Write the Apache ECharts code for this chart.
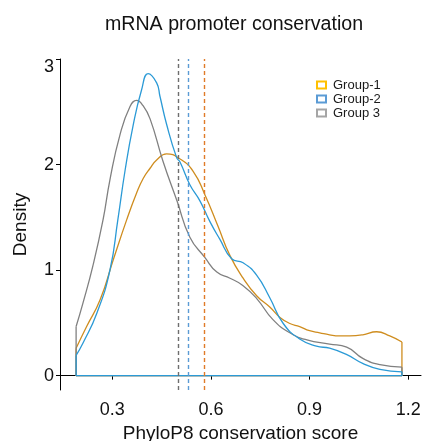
<!DOCTYPE html>
<html>
<head>
<meta charset="utf-8">
<script src="https://cdn.jsdelivr.net/npm/echarts@6/dist/echarts.min.js"></script>
<style>
  html, body { margin: 0; padding: 0; background: #ffffff; }
  #chart { width: 424px; height: 441px; }
</style>
</head>
<body>
<div id="chart"></div>
<script>
// Kernel density estimates of PhyloP8 scores for three promoter groups
const groupNames = ['Group-1', 'Group-2', 'Group 3'];

const group1X = [0.190, 0.222, 0.263, 0.303, 0.344, 0.374, 0.394, 0.415, 0.435, 0.465,
                 0.506, 0.546, 0.582, 0.621, 0.658, 0.698, 0.739, 0.779, 0.810, 0.840,
                 0.870, 0.900, 0.931, 0.961, 0.991, 1.022, 1.062, 1.104, 1.144, 1.181];
const group1Density = [0.260, 0.465, 0.718, 1.098, 1.478, 1.731, 1.868, 1.965, 2.043, 2.102,
                       2.053, 1.936, 1.712, 1.420, 1.137, 0.923, 0.757, 0.650, 0.552, 0.494,
                       0.465, 0.426, 0.406, 0.387, 0.377, 0.377, 0.387, 0.416, 0.377, 0.319];

const group2X = [0.190, 0.211, 0.253, 0.293, 0.317, 0.339, 0.363, 0.389, 0.409, 0.435,
                 0.445, 0.465, 0.496, 0.506, 0.536, 0.567, 0.597, 0.627, 0.663, 0.698,
                 0.739, 0.779, 0.820, 0.870, 0.921, 0.961, 1.012, 1.063, 1.114, 1.181];
const group2Density = [0.192, 0.309, 0.591, 1.001, 1.478, 1.946, 2.365, 2.706, 2.862, 2.774,
                       2.647, 2.384, 2.063, 2.024, 1.809, 1.654, 1.459, 1.293, 1.108, 1.069,
                       0.952, 0.738, 0.494, 0.348, 0.280, 0.260, 0.202, 0.114, 0.060, 0.036];

const group3X = [0.190, 0.211, 0.241, 0.272, 0.293, 0.323, 0.354, 0.374, 0.393, 0.415,
                 0.454, 0.497, 0.536, 0.582, 0.618, 0.658, 0.697, 0.740, 0.788, 0.840,
                 0.892, 0.961, 1.013, 1.062, 1.114, 1.181];
const group3Density = [0.465, 0.689, 1.040, 1.478, 1.858, 2.277, 2.550, 2.608, 2.560, 2.433,
                       2.034, 1.654, 1.312, 1.118, 0.981, 0.923, 0.855, 0.728, 0.533, 0.406,
                       0.338, 0.299, 0.270, 0.163, 0.104, 0.080];

// Group medians, drawn as dashed reference lines
const groupMedians = [0.584, 0.527, 0.500];

const xTickValues = [0.3, 0.6, 0.9, 1.2];
const yTickValues = [0, 1, 2, 3];

const lineColors   = ['#CF8D1F', '#2B9AD6', '#808080'];
const dashColors   = ['#E07B28', '#5B9BD5', '#6E6E6E'];
const legendColors = ['#FFC000', '#5B9BD5', '#A5A5A5'];

const FONT = '"Liberation Sans", Arial, Helvetica, sans-serif';

const xs = [group1X, group2X, group3X];
const ys = [group1Density, group2Density, group3Density];

function zip(a, b) { return a.map((v, i) => [v, b[i]]); }

// Draw order: Group-1, Group 3, Group-2 (Group-2 outline ends on top)
const drawOrder = [0, 2, 1];
const series = [];
drawOrder.forEach(i => {
  const x = xs[i], y = ys[i];
  const n = x.length;
  series.push({
    name: groupNames[i],
    type: 'line',
    data: zip(x, y),
    smooth: 0.5,
    showSymbol: false,
    symbol: 'none',
    lineStyle: { color: lineColors[i], width: 1.3 },
    itemStyle: { color: lineColors[i] },
    markLine: {
      silent: true,
      symbol: ['none', 'none'],
      label: { show: false },
      lineStyle: { color: dashColors[i], type: [4, 3], width: 1.4 },
      data: [{ xAxis: groupMedians[i] }]
    },
    z: 3
  });
  // closing edges of the density polygon: sides and baseline
  series.push({
    name: groupNames[i] + ' edge',
    type: 'line',
    data: [[x[0], y[0]], [x[0], 0], [x[n - 1], 0], [x[n - 1], y[n - 1]]],
    smooth: false,
    showSymbol: false,
    symbol: 'none',
    lineStyle: { color: lineColors[i], width: 1.3 },
    z: 3
  });
});

const chart = echarts.init(document.getElementById('chart'), null, { renderer: 'canvas' });
chart.setOption({
  animation: false,
  backgroundColor: '#ffffff',
  title: {
    text: 'mRNA promoter conservation',
    left: 100,
    top: 10,
    textStyle: { fontFamily: FONT, fontSize: 19.6, fontWeight: 'normal', color: '#111111' }
  },
  legend: {
    orient: 'vertical',
    left: 311,
    top: 73,
    itemWidth: 9,
    itemHeight: 7,
    itemGap: 0,
    icon: 'rect',
    textStyle: { fontFamily: FONT, fontSize: 13, color: '#1a1a1a', lineHeight: 14, padding: [0, 0, 0, 2] },
    data: groupNames.map((g, i) => ({
      name: g,
      icon: 'rect',
      itemStyle: { color: '#ffffff', borderColor: legendColors[i], borderWidth: 2 }
    }))
  },
  grid: { left: 60, right: 3, top: 59, bottom: 51, containLabel: false, outerBoundsMode: 'none' },
  xAxis: {
    type: 'value',
    min: 0.141,
    max: 1.239,
    name: 'PhyloP8 conservation score',
    nameLocation: 'middle',
    nameGap: 31,
    nameTextStyle: { fontFamily: FONT, fontSize: 19, color: '#111111' },
    axisLine: { show: true, lineStyle: { color: '#000000', width: 1 } },
    axisTick: { show: true, length: 4, customValues: xTickValues, lineStyle: { color: '#000000' } },
    axisLabel: {
      customValues: xTickValues,
      margin: 11,
      fontFamily: FONT, fontSize: 18, color: '#111111',
      formatter: v => v.toFixed(1)
    },
    splitLine: { show: false }
  },
  yAxis: {
    type: 'value',
    min: -0.136,
    max: 3.0,
    name: 'Density',
    nameLocation: 'middle',
    nameGap: 30,
    nameTextStyle: { fontFamily: FONT, fontSize: 19, color: '#111111' },
    axisLine: { show: true, lineStyle: { color: '#000000', width: 1 } },
    axisTick: { show: true, length: 4, customValues: yTickValues, lineStyle: { color: '#000000' } },
    axisLabel: {
      customValues: yTickValues,
      margin: 6,
      fontFamily: FONT, fontSize: 18, color: '#111111',
      formatter: v => (v === 3 ? '{low|3}' : String(v)),
      rich: { low: { fontFamily: FONT, fontSize: 18, color: '#111111', padding: [16, 0, 0, 0] } }
    },
    splitLine: { show: false }
  },
  series: series
});
</script>
</body>
</html>
